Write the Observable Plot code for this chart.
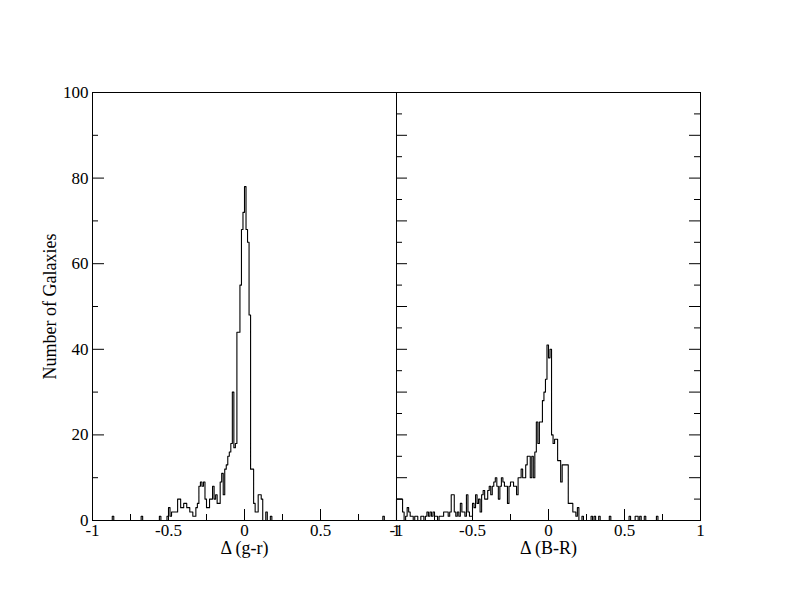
<!DOCTYPE html>
<html>
<head>
<meta charset="utf-8">
<script src="https://cdn.jsdelivr.net/npm/d3@7"></script>
<script src="https://cdn.jsdelivr.net/npm/@observablehq/plot@0.6"></script>
<style>
  html, body { margin: 0; padding: 0; background: #fff; }
  #chart { width: 792px; height: 612px; }
</style>
</head>
<body>
<div id="chart"></div>
<script>
// Panels (x-axis titles)
const panels = ["Δ (g-r)", "Δ (B-R)"];
const binWidth = 0.01;

// Left panel: bin left edges and counts (non-empty bins only)
const grX = [-0.87, -0.68, -0.56, -0.51, -0.50, -0.49, -0.48, -0.47, -0.46, -0.45,
  -0.44, -0.43, -0.42, -0.41, -0.40, -0.39, -0.38, -0.37, -0.36, -0.35,
  -0.34, -0.33, -0.32, -0.31, -0.30, -0.29, -0.28, -0.27, -0.26, -0.25,
  -0.24, -0.23, -0.22, -0.21, -0.20, -0.19, -0.18, -0.17, -0.16, -0.15,
  -0.14, -0.13, -0.12, -0.11, -0.10, -0.09, -0.08, -0.07, -0.06, -0.05,
  -0.04, -0.03, -0.02, -0.01, 0.00, 0.01, 0.02, 0.03, 0.04, 0.05,
  0.06, 0.07, 0.08, 0.09, 0.10, 0.11, 0.14, 0.17, 0.91];
const grN = [1, 1, 1, 1, 3, 1, 2, 2, 2, 2,
  5, 5, 3, 3, 4, 4, 3, 3, 2, 2,
  1, 1, 3, 4, 8, 9, 8, 9, 5, 3,
  3, 5, 5, 8, 5, 6, 4, 4, 9, 11,
  6, 12, 13, 15, 16, 18, 30, 17, 18, 44,
  44, 55, 68, 72, 78, 68, 65, 48, 12, 12,
  4, 2, 2, 6, 6, 5, 2, 1, 1];

// Right panel: bin left edges and counts (non-empty bins only)
const brX = [-1.00, -0.99, -0.98, -0.97, -0.96, -0.94, -0.93, -0.92, -0.91, -0.90,
  -0.88, -0.87, -0.84, -0.83, -0.81, -0.80, -0.79, -0.78, -0.77, -0.76,
  -0.75, -0.74, -0.72, -0.71, -0.70, -0.69, -0.68, -0.67, -0.66, -0.65,
  -0.64, -0.63, -0.62, -0.61, -0.60, -0.59, -0.58, -0.57, -0.56, -0.55,
  -0.54, -0.53, -0.52, -0.51, -0.50, -0.49, -0.48, -0.47, -0.46, -0.45,
  -0.44, -0.43, -0.42, -0.41, -0.40, -0.39, -0.38, -0.37, -0.36, -0.35,
  -0.34, -0.33, -0.32, -0.31, -0.30, -0.29, -0.28, -0.27, -0.26, -0.25,
  -0.24, -0.23, -0.22, -0.21, -0.20, -0.19, -0.18, -0.17, -0.16, -0.15,
  -0.14, -0.13, -0.12, -0.11, -0.10, -0.09, -0.08, -0.07, -0.06, -0.05,
  -0.04, -0.03, -0.02, -0.01, 0.00, 0.01, 0.02, 0.03, 0.04, 0.05,
  0.06, 0.07, 0.08, 0.09, 0.10, 0.11, 0.12, 0.13, 0.14, 0.15,
  0.16, 0.17, 0.18, 0.19, 0.22, 0.28, 0.30, 0.33, 0.40, 0.53,
  0.57, 0.58, 0.60, 0.63, 0.71];
const brN = [5, 5, 5, 5, 2, 1, 3, 2, 1, 1,
  1, 1, 1, 1, 1, 2, 1, 2, 1, 2,
  1, 1, 1, 1, 1, 2, 2, 2, 1, 2,
  6, 6, 2, 1, 2, 1, 4, 2, 2, 1,
  6, 2, 1, 1, 4, 3, 6, 4, 5, 2,
  6, 7, 5, 5, 7, 8, 6, 8, 9, 10,
  8, 5, 8, 10, 9, 8, 8, 4, 8, 9,
  9, 8, 8, 6, 10, 10, 12, 10, 10, 13,
  15, 15, 10, 15, 10, 16, 23, 18, 23, 23,
  28, 30, 33, 41, 38, 40, 20, 18, 19, 19,
  14, 14, 9, 13, 13, 13, 13, 4, 4, 4,
  2, 2, 1, 3, 1, 1, 1, 1, 1, 1,
  1, 1, 1, 1, 1];

// Axis ticks
const xMajor = [-1, -0.5, 0, 0.5, 1];
const xMinor = [-0.75, -0.25, 0.25, 0.75];
const yLabels = [0, 20, 40, 60, 80, 100];
const yMinorLeft = [10, 30, 50, 70, 90];
const yMajorRight = [0, 10, 20, 30, 40, 50, 60, 70, 80, 90, 100];
const yMinorRight = [5, 15, 25, 35, 45, 55, 65, 75, 85, 95];
const yTitle = "Number of Galaxies";

// Build step data (full bin grid, empty bins are zero)
const steps = [];
function addPanel(name, xs, ns) {
  const nb = Math.round(2 / binWidth);
  const counts = new Array(nb).fill(0);
  xs.forEach((x, i) => { counts[Math.round((x + 1) / binWidth)] = ns[i]; });
  steps.push({panel: name, x: -1, n: 0});
  counts.forEach((c, k) => steps.push({panel: name, x: -1 + k * binWidth, n: c}));
  steps.push({panel: name, x: 1, n: 0});
}
addPanel(panels[0], grX, grN);
addPanel(panels[1], brX, brN);

const innerH = 612 - 92 - 92;
const innerW = (792 - 92 - 92) / 2;
const majLen = 11, minLen = 6;

const chart = Plot.plot({
  width: 792,
  height: 612,
  marginLeft: 92,
  marginRight: 92,
  marginTop: 92,
  marginBottom: 92,
  style: {
    fontFamily: "'Liberation Serif', 'Times New Roman', 'DejaVu Serif', serif",
    fontSize: "17px",
    color: "black",
    background: "white",
    overflow: "visible"
  },
  fx: {domain: panels, padding: 0, axis: null},
  x: {domain: [-1, 1], axis: null},
  y: {domain: [0, 100], axis: null},
  marks: [
    Plot.line(steps, {x: "x", y: "n", fx: "panel", curve: "step-after", stroke: "black", strokeWidth: 1.1}),
    Plot.frame({stroke: "black", strokeWidth: 1}),
    // x ticks (inward)
    Plot.tickX(xMajor, {x: d => d, insetTop: innerH - majLen, stroke: "black"}),
    Plot.tickX(xMinor, {x: d => d, insetTop: innerH - minLen, stroke: "black"}),
    // left panel y ticks
    Plot.tickY(yLabels, {y: d => d, fx: () => panels[0], insetRight: innerW - 12, stroke: "black"}),
    Plot.tickY(yMinorLeft, {y: d => d, fx: () => panels[0], insetRight: innerW - minLen, stroke: "black"}),
    // right panel y ticks both sides
    Plot.tickY(yMajorRight, {y: d => d, fx: () => panels[1], insetRight: innerW - majLen, stroke: "black"}),
    Plot.tickY(yMinorRight, {y: d => d, fx: () => panels[1], insetRight: innerW - minLen, stroke: "black"}),
    Plot.tickY(yMajorRight, {y: d => d, fx: () => panels[1], insetLeft: innerW - majLen, stroke: "black"}),
    Plot.tickY(yMinorRight, {y: d => d, fx: () => panels[1], insetLeft: innerW - minLen, stroke: "black"}),
    // tick labels
    Plot.axisX(xMajor, {tickSize: 0, tickPadding: 3, tickFormat: d => String(d), fontSize: 17, label: null}),
    Plot.axisY(yLabels, {tickSize: 0, tickPadding: 4, tickFormat: d => String(d), fontSize: 17, label: null}),
    // titles
    Plot.text(panels, {fx: d => d, text: d => d, frameAnchor: "bottom", dy: 33, fontSize: 18, textAnchor: "middle"}),
    Plot.text([yTitle], {fx: () => panels[0], text: d => d, frameAnchor: "left", textAnchor: "middle", rotate: -90, dx: -42, fontSize: 18})
  ]
});
document.getElementById("chart").appendChild(chart);
</script>
</body>
</html>
